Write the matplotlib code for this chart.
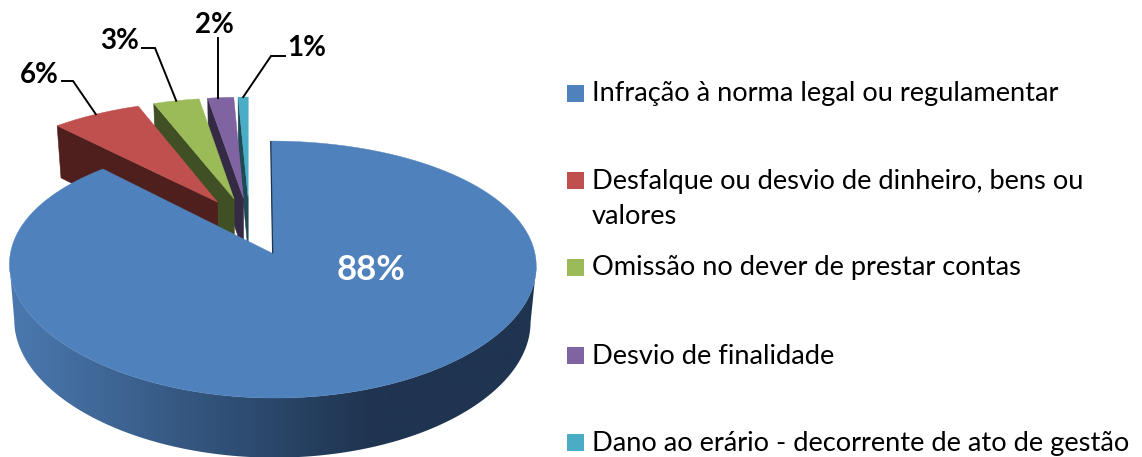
import numpy as np
import matplotlib
matplotlib.use("Agg")
import matplotlib.pyplot as plt
from matplotlib.patches import Polygon, Rectangle
from matplotlib.colors import to_rgb

categories = ["Infração à norma legal ou regulamentar",
              "Desfalque ou desvio de dinheiro, bens ou\nvalores",
              "Omissão no dever de prestar contas",
              "Desvio de finalidade",
              "Dano ao erário - decorrente de ato de gestão"]
values = [88.0, 6.3, 3.2, 1.8, 0.7]
top_colors = ["#4F81BD", "#C0504D", "#9BBB59", "#8064A2", "#4BACC6"]
wall_colors = ["#1F3450", "#4F1F1D", "#404F24", "#352A44", "#1F4A55"]

plt.rcParams['font.family'] = ['Lato', 'DejaVu Sans']
W, H = 1142, 457
fig = plt.figure(figsize=(W / 100, H / 100), dpi=100)
ax = fig.add_axes([0, 0, 1, 1])

# projection of the tilted pie: disc units -> pixels
X0, Y0, BX, AY, K, KX, DEPTH, SHRINK, EXPLODE = 249.5, 226, 257, 119.7, 0.1217, 0.09, 55, 0.98, 0.24


def project(xd, yd, bottom=False):
    xd, yd = np.asarray(xd, float), np.asarray(yd, float)
    s = 1 / (1 + K * yd)
    sx = 1 / (1 + KX * yd)
    if bottom:
        return X0 + BX * xd * sx * SHRINK, Y0 - AY * yd * s + DEPTH * np.sqrt(s)
    return X0 + BX * xd * sx, Y0 - AY * yd * s


def rim(th, off):
    return off[0] + np.sin(th), off[1] + np.cos(th)


fractions = np.array(values, float) / sum(values)
edges = np.concatenate([[0], np.cumsum(fractions)]) * 2 * np.pi
mids = (edges[:-1] + edges[1:]) / 2
offsets = [(EXPLODE * np.sin(m), EXPLODE * np.cos(m)) for m in mids]

# small slices, back to front, each with its cut face
for i in [4, 3, 2, 1]:
    off = offsets[i]
    a, b = edges[i], edges[i + 1]
    ox, oy = rim(a, off)
    tx, ty = project(ox, oy)
    bx, by = project(ox, oy, bottom=True)
    ax_t, ay_t = project(off[0], off[1])
    ax_b, ay_b = project(off[0], off[1], bottom=True)
    ax.add_patch(Polygon([(tx, ty), (ax_t, ay_t), (ax_b, ay_b), (bx, by)],
                         closed=True, fc=wall_colors[i], ec=wall_colors[i], lw=0.4))
    th = np.linspace(a, b, 40)
    px, py = project(*rim(th, off))
    ax.add_patch(Polygon(list(zip(px, py)) + [(ax_t, ay_t)], closed=True,
                         fc=top_colors[i], ec=top_colors[i], lw=0.3))

# large slice: shaded outer wall (horizontal gradient clipped to its silhouette), then top face
off = offsets[0]
start_rgb = np.array(to_rgb("#4A78AE"))
end_rgb = np.array(to_rgb("#1F3450"))
th = np.linspace(np.radians(30), np.radians(316), 900)
wt = np.column_stack(project(*rim(th, off)))
wb = np.column_stack(project(*rim(th, off), bottom=True))
tr, tl = np.argmax(wt[:, 0]), np.argmin(wt[:, 0])
br, bl = np.argmax(wb[:, 0]), np.argmin(wb[:, 0])
wall = Polygon(np.vstack([wt[tr:tl + 1], wb[br:bl + 1][::-1]]), closed=True, fc="none", ec="none")
ax.add_patch(wall)
grad_x = np.linspace(0, W, W + 1)
f = np.clip((370 - grad_x) / 355, 0, 1)[None, :, None]
img = end_rgb[None, None, :] + (start_rgb - end_rgb)[None, None, :] * f
im = ax.imshow(img, extent=(0, W, H, 0), aspect="auto", interpolation="bilinear", zorder=1)
im.set_clip_path(wall)

tt = np.linspace(edges[0], edges[1], 500)
px, py = project(*rim(tt, off))
apx, apy = project(off[0], off[1])
ax.add_patch(Polygon(list(zip(px, py)) + [(apx, apy)], closed=True,
                     fc=top_colors[0], ec=top_colors[0], lw=0.3, zorder=2))
ax.plot([px[0], apx], [py[0], apy], color=wall_colors[0], lw=0.9, solid_capstyle="butt", zorder=3)

# data labels and leader lines
label_pos = [(371, 270), (39, 75), (120, 41), (214, 25), (307, 48)]
elbows = [None, [(62, 81), (73, 81)], [(142, 48), (155, 48)], [(218, 38)], [(285, 56), (271, 56)]]
for i, v in enumerate(values):
    ax.text(*label_pos[i], f"{round(v)}%", ha="center", va="center", fontweight="bold",
            fontsize=25 if i == 0 else 20, color="white" if i == 0 else "black", zorder=5)
    if elbows[i]:
        ox, oy = rim(mids[i], offsets[i])
        ex, ey = project(ox, oy)
        pts = elbows[i] + [(float(ex), float(ey))]
        if i == 3:
            pts = [pts[0], (pts[0][0], pts[1][1])]
        ax.plot(*zip(*pts), color="black", lw=1.4, solid_joinstyle="miter", zorder=4)

# legend
legend_y = [94, 199, 268, 356, 444]
marker_y = [93, 180, 267, 355, 442]
for i, c in enumerate(categories):
    ax.add_patch(Rectangle((567, marker_y[i] - 8.5), 17, 17, fc=top_colors[i], ec="none"))
    ax.text(592, legend_y[i], c, ha="left", va="center", fontsize=19.6,
            color="black", linespacing=1.45)

ax.set_xlim(0, W)
ax.set_ylim(H, 0)
ax.axis("off")
fig.savefig("out.png", dpi=100, facecolor="white")
